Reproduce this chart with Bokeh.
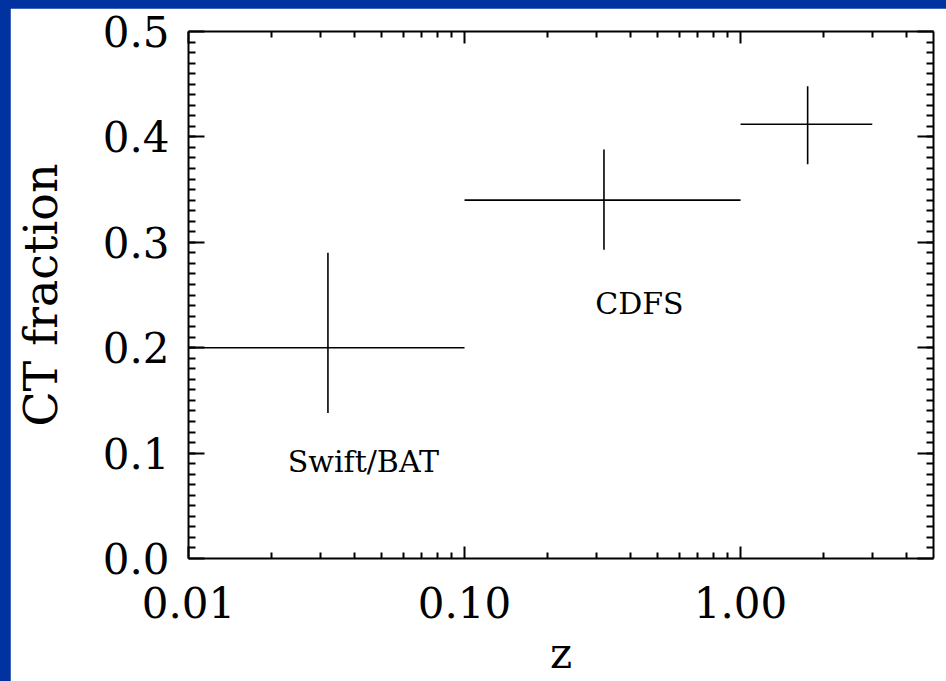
from bokeh.plotting import figure
from bokeh.models import (FixedTicker, LogAxis, LinearAxis, Range1d, CustomJSTickFormatter)
from bokeh.layouts import column
from bokeh.core.properties import value
from bokeh.embed import file_html
from bokeh.resources import INLINE

# ---- data ----
z_center = [0.032, 0.32, 1.75]
z_lo = [0.01, 0.10, 1.00]
z_hi = [0.10, 1.00, 3.00]
ct_frac = [0.200, 0.340, 0.412]
ct_lo = [0.138, 0.293, 0.374]
ct_hi = [0.290, 0.388, 0.448]

label_x = [0.043, 0.43]
label_y = [0.092, 0.242]
label_text = ["Swift/BAT", "CDFS"]

x_major = [0.01, 0.1, 1.0]
x_minor = [k * d for d in (0.01, 0.1) for k in range(2, 10)] + [2.0, 3.0, 4.0]
y_major = [0.0, 0.1, 0.2, 0.3, 0.4, 0.5]
y_minor = [round(i / 100, 2) for i in range(1, 50)]

FONT = "DejaVu Serif"
BLUE = "#0033a0"

p = figure(width=936, height=673, x_axis_type="log",
           x_range=Range1d(0.01, 5.0), y_range=Range1d(0.0, 0.5),
           output_backend="svg", toolbar_location=None,
           min_border_left=176, min_border_top=23, min_border_right=13,
           min_border_bottom=123, background_fill_color="white",
           border_fill_color="white", outline_line_color=None)
p.margin = (8, 0, 0, 10)
p.xgrid.visible = False
p.ygrid.visible = False

xt = FixedTicker(ticks=x_major, minor_ticks=x_minor)
yt = FixedTicker(ticks=y_major, minor_ticks=y_minor)
xfmt = CustomJSTickFormatter(code="return tick.toFixed(2);")
yfmt = CustomJSTickFormatter(code="return tick.toFixed(1);")
blank = CustomJSTickFormatter(code="return '';")


def style_axis(ax, major_len, minor_len, labels=True):
    ax.axis_line_color = "black"
    ax.axis_line_width = 2
    ax.major_tick_line_color = "black"
    ax.minor_tick_line_color = "black"
    ax.major_tick_line_width = 2
    ax.minor_tick_line_width = 2
    ax.major_tick_in = major_len
    ax.major_tick_out = 0
    ax.minor_tick_in = minor_len
    ax.minor_tick_out = 0
    ax.major_label_text_font = FONT
    ax.axis_label_text_font = FONT
    ax.axis_label_text_font_style = "normal"
    ax.major_label_text_color = "black"
    ax.axis_label_text_color = "black"
    ax.major_label_text_font_size = "42px"
    ax.axis_label_text_font_size = "42px"
    if not labels:
        ax.formatter = blank
        ax.major_label_standoff = 0


xa = p.xaxis[0]
xa.ticker = xt
xa.formatter = xfmt
xa.axis_label = "z"
style_axis(xa, 12, 6)
xa.major_label_standoff = 28
xa.axis_label_standoff = 8

ya = p.yaxis[0]
ya.ticker = yt
ya.formatter = yfmt
ya.axis_label = "CT fraction"
style_axis(ya, 16, 7)
ya.axis_label_text_font_size = "46px"
ya.major_label_standoff = 19
ya.axis_label_standoff = 32
ya.major_label_orientation = "horizontal"

top = LogAxis(ticker=xt)
style_axis(top, 12, 6, labels=False)
p.add_layout(top, "above")

right = LinearAxis(ticker=yt)
style_axis(right, 16, 7, labels=False)
p.add_layout(right, "right")

# error bars
p.segment(x0=z_lo, y0=ct_frac, x1=z_hi, y1=ct_frac, line_color="black", line_width=1.6)
p.segment(x0=z_center, y0=ct_lo, x1=z_center, y1=ct_hi, line_color="black", line_width=1.6)

p.text(x=label_x, y=label_y, text=label_text, text_align="center",
       text_baseline="middle", text_font=value(FONT), text_font_size="30px",
       text_color="black")

lay = column(p, styles={"background-color": BLUE})
open("out.html", "w").write(file_html(lay, INLINE))
